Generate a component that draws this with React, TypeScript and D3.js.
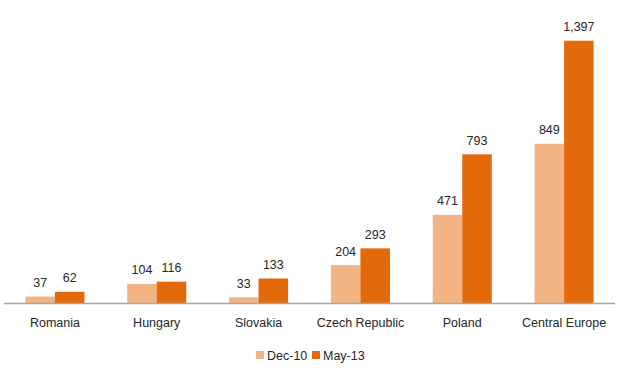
import React from "react";
import * as d3 from "d3";

const categories = ["Romania", "Hungary", "Slovakia", "Czech Republic", "Poland", "Central Europe"];
const seriesNames = ["Dec-10", "May-13"];
const dec10 = [37, 104, 33, 204, 471, 849];
const may13 = [62, 116, 133, 293, 793, 1397];
const colors = ["#F2B482", "#E3690B"];

export default function App() {
  const W = 620, H = 379;
  const left = 4, right = 615, base = 303.5;
  const x0 = d3.scaleBand<string>().domain(categories).range([left, right]).paddingInner(0.42).paddingOuter(0.21);
  const x1 = d3.scaleBand<string>().domain(seriesNames).range([0, x0.bandwidth()]);
  const y = d3.scaleLinear().domain([0, 1600]).range([base, 2.5]);
  const fmt = d3.format(",");
  const series = [dec10, may13];
  const font = "'Liberation Sans', Arial, sans-serif";
  const fs = 12.5;
  return (
    <svg width={W} height={H} style={{ position: "absolute", left: 0, top: 0 }} fontFamily={font}>
      <rect width={W} height={H} fill="#fff" />
      {categories.map((c, i) => (
        <g key={c} transform={`translate(${x0(c)},0)`}>
          {series.map((s, j) => {
            const v = s[i];
            const bx = x1(seriesNames[j])!;
            return (
              <g key={j}>
                <rect x={bx} y={y(v)} width={x1.bandwidth()} height={base - y(v)} fill={colors[j]} />
                <text x={bx + x1.bandwidth() / 2} y={y(v) - 9.5} textAnchor="middle" fontSize={fs} fill="#262626">
                  {fmt(v)}
                </text>
              </g>
            );
          })}
          <text x={x0.bandwidth() / 2} y={326.5} textAnchor="middle" fontSize={fs} fill="#262626">{c}</text>
        </g>
      ))}
      <line x1={left} x2={right} y1={base} y2={base} stroke="#A6A6A6" strokeWidth={1.3} />
      <g transform="translate(256,351)">
        <rect x={0} y={0} width={8} height={8} fill={colors[0]} />
        <text x={11} y={8.5} fontSize={fs} fill="#262626">{seriesNames[0]}</text>
        <rect x={56} y={0} width={8} height={8} fill={colors[1]} />
        <text x={67} y={8.5} fontSize={fs} fill="#262626">{seriesNames[1]}</text>
      </g>
    </svg>
  );
}
